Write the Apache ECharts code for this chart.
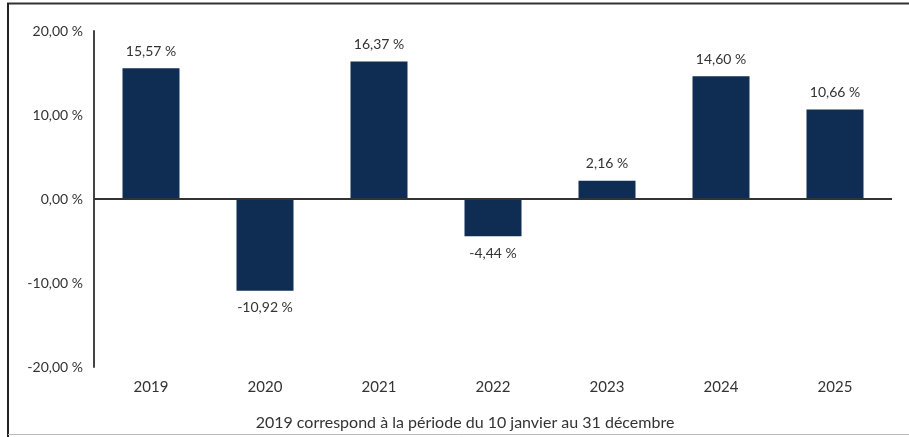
<!DOCTYPE html>
<html>
<head>
<meta charset="utf-8">
<script src="https://cdn.jsdelivr.net/npm/echarts@6/dist/echarts.min.js"></script>
<style>
  html, body { margin: 0; padding: 0; background: #fff; }
  #main { width: 909px; height: 437px; }
</style>
</head>
<body>
<div id="main"></div>
<script>
const years = ['2019', '2020', '2021', '2022', '2023', '2024', '2025']
const returns = [15.57, -10.92, 16.37, -4.44, 2.16, 14.60, 10.66]
const yTicks = [-20, -10, 0, 10, 20]
const footnote = '2019 correspond à la période du 10 janvier au 31 décembre'

const fmt = v => v.toFixed(2).replace('.', ',') + ' %'
const textColor = '#333'
const fontFamily = 'Lato, "Open Sans", sans-serif'

const chart = echarts.init(document.getElementById('main'))

const option = {
  animation: false,
  textStyle: { fontFamily: fontFamily },
  grid: { left: 94, right: 17, top: 31, bottom: 70 },
  xAxis: {
    type: 'category',
    data: years,
    axisLine: { show: false, onZero: false },
    axisTick: { show: false },
    axisLabel: { color: textColor, fontSize: 15, margin: 13 }
  },
  yAxis: {
    type: 'value',
    min: yTicks[0],
    max: yTicks[yTicks.length - 1],
    interval: 10,
    splitLine: { show: false },
    axisTick: { show: false },
    axisLine: { show: true, lineStyle: { color: '#444', width: 2 } },
    axisLabel: { color: textColor, fontSize: 14, margin: 11, formatter: v => fmt(v) }
  },
  series: [
    {
      type: 'bar',
      barWidth: '50%',
      itemStyle: { color: '#0f2d52' },
      data: returns.map(v => ({
        value: v,
        label: { position: v < 0 ? 'bottom' : 'top' }
      })),
      label: {
        show: true,
        distance: 10,
        color: textColor,
        fontSize: 14,
        formatter: p => fmt(p.value)
      },
      markLine: {
        silent: true,
        symbol: 'none',
        label: { show: false },
        lineStyle: { color: '#333', width: 2, type: 'solid' },
        data: [{ yAxis: 0 }]
      }
    }
  ],
  graphic: [
    {
      type: 'text',
      x: 465,
      y: 423,
      style: {
        text: footnote,
        fill: textColor,
        fontSize: 16,
        fontFamily: fontFamily,
        align: 'center',
        verticalAlign: 'middle'
      }
    },
    { type: 'line', shape: { x1: 7, y1: 3.5, x2: 909, y2: 3.5 }, style: { stroke: '#333', lineWidth: 2 } },
    { type: 'line', shape: { x1: 8, y1: 3, x2: 8, y2: 437 }, style: { stroke: '#222', lineWidth: 2 } },
    { type: 'line', shape: { x1: 8, y1: 434.5, x2: 909, y2: 434.5 }, style: { stroke: '#bbb', lineWidth: 1 } }
  ]
}

chart.setOption(option)
</script>
</body>
</html>
